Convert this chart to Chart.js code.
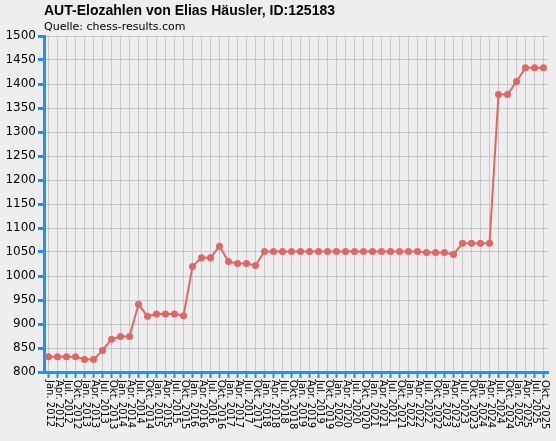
<!DOCTYPE html>
<html><head><script src="https://cdn.jsdelivr.net/npm/chart.js@4"></script>
<style>body{margin:0;background:#eeeeee}#w{width:556px;height:441px}</style></head>
<body><div id="w"><canvas id="c"></canvas></div>
<script>
const years=[2012,2013,2014,2015,2016,2017,2018,2019,2020,2021,2022,2023,2024,2025];
const months=['Jan.','Apr.','Jul.','Okt.'];
const labels=[];years.forEach(y=>months.forEach(m=>labels.push(m+' '+y)));
const elo=[832,832,832,832,826,826,845,868,874,874,941,916,921,921,921,917,
1020,1038,1038,1062,1030,1026,1026,1022,
1051,1051,1051,1051,1051,1051,1051,1051,1051,1051,1051,1051,1051,1051,1051,1051,1051,1051,
1049,1049,1049,1045,1068,1068,1068,1068,1378,1378,1405,1434,1434,1434];
const yTicks=[800,850,900,950,1000,1050,1100,1150,1200,1250,1300,1350,1400,1450,1500];
const deco={id:'deco',
 beforeDraw(ch){const c=ch.ctx;c.save();c.fillStyle='#eeeeee';c.fillRect(0,0,ch.width,ch.height);c.restore();},
 afterDraw(ch){const c=ch.ctx,x=ch.scales.x,ca=ch.chartArea;c.save();
  c.fillStyle='#000';c.font='bold 14px "Liberation Sans",Arial,sans-serif';c.textBaseline='middle';
  c.fillText('AUT-Elozahlen von Elias Häusler, ID:125183',44,11);
  c.font='11px "DejaVu Sans",sans-serif';c.fillText('Quelle: chess-results.com',44,27);
  c.font='10px "DejaVu Sans",sans-serif';
  labels.forEach((l,i)=>{const px=x.getPixelForValue(i);c.save();c.translate(px+1,ca.bottom+8);c.rotate(Math.PI/2);c.textBaseline='middle';c.textAlign='left';c.fillText(l,0,0);c.restore();});
  c.strokeStyle='#1e90ff';c.lineWidth=2;
  labels.forEach((l,i)=>{const px=x.getPixelForValue(i);c.beginPath();c.moveTo(px,ca.bottom);c.lineTo(px,ca.bottom+6);c.stroke();});
  c.restore();}};
new Chart(document.getElementById('c'),{type:'line',
 data:{labels,datasets:[{data:elo,borderColor:'#e06666',backgroundColor:'#e06666',borderWidth:2,pointRadius:2.5,pointHoverRadius:2.5,tension:0}]},
 options:{responsive:true,maintainAspectRatio:false,animation:false,
  layout:{padding:{top:36,right:8,left:0,bottom:0}},
  plugins:{legend:{display:false},tooltip:{enabled:false}},
  scales:{
   x:{offset:true,grid:{offset:false,color:'#c8c8c8',drawTicks:false},border:{color:'#1e90ff',width:3},
      ticks:{display:false},afterFit(s){s.height=69;}},
   y:{min:800,max:1500,afterBuildTicks(s){s.ticks=yTicks.map(v=>({value:v}));},
      grid:{color:'#c8c8c8',tickColor:'#1e90ff',tickLength:6,tickWidth:3},border:{color:'#1e90ff',width:3},
      ticks:{color:'#000',font:{size:12,family:'"DejaVu Sans",sans-serif'},padding:2,callback:v=>String(v)},afterFit(s){s.width=44;}}
  }},plugins:[deco]});
</script></body></html>
